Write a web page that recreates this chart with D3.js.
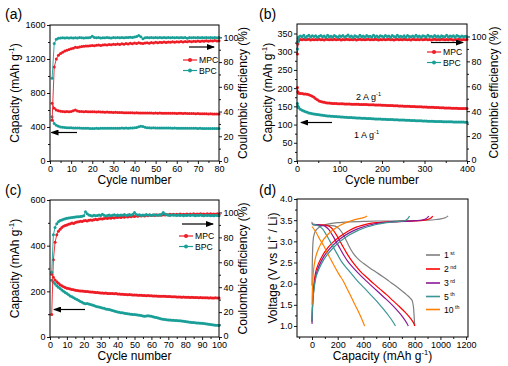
<!DOCTYPE html>
<html><head><meta charset="utf-8">
<script src="https://cdn.jsdelivr.net/npm/d3@7"></script>
<style>
body{margin:0;background:#fff}
svg{display:block}
text{font-family:"Liberation Sans",Arial,sans-serif;fill:#000}
</style>
</head><body>
<svg id="chart" width="508" height="366"></svg>
<script>
// ---------------- DATA ----------------
// Panel (a): 80 cycles
const aCycles = d3.range(1, 81);
const aMpcCap = [680,620,600,590,585,582,580,583,580,582,
590,600,588,583,582,580,581,579,580,578,
579,577,578,576,577,575,576,574,575,572,
573,571,570,571,569,568,569,567,568,566,
567,565,566,564,565,566,564,565,563,564,
563,564,562,563,561,562,563,561,562,560,
561,562,560,561,559,560,558,559,557,558,
556,557,555,556,554,555,553,554,552,553];
const aMpcCE = [33,76,82.5,85.5,87,88,89,89.5,90.2,90.8,
91.2,92,91.8,92.3,92.6,92.8,93,93.1,93.3,93.5,
93.2,93.6,93.8,93.5,93.9,94.1,93.8,94.2,94,94.4,
94.2,94.6,94.3,94.8,94.5,95,94.7,95.2,94.9,95.4,
95.1,95.6,95.2,95,95.5,95.7,95.3,95.8,95.5,96,
95.7,96.1,95.8,96.2,95.9,96.3,96,96.4,96.1,96.5,
96.2,96.6,96.3,96.7,96.4,96.8,96.5,96.9,96.6,97,
96.7,97.1,96.8,97.2,96.9,97.3,97,97.4,97.1,97.3];
const aBpcCap = [520,440,420,408,400,396,394,392,391,390,
389,388,388,387,386,386,385,384,383,382,
383,384,383,384,385,384,385,386,385,385,
386,385,386,387,386,387,386,387,388,390,
395,402,408,405,396,392,390,389,390,388,
389,388,387,388,387,388,387,386,387,386,
386,385,386,385,385,384,385,384,384,383,
384,383,383,382,383,382,382,381,382,381];
const aBpcCE = [67,95,98.5,99.2,99.5,99.6,99.4,99.7,99.5,99.6,
99.4,99.7,99.5,99.8,99.6,99.5,99.7,99.6,99.8,100.8,
99.9,99.6,99.8,99.5,99.7,99.6,99.9,99.7,99.5,99.8,
99.6,99.9,99.7,99.8,99.6,99.9,99.8,100,99.9,100.2,
100.6,101.5,100.5,98.8,99.6,99.8,99.7,99.9,99.6,99.8,
99.7,99.9,99.6,99.8,99.7,99.9,99.6,99.8,99.7,99.9,
99.6,99.8,99.7,99.9,99.3,99.8,99.7,99.9,99.6,99.8,
99.7,99.9,99.6,99.8,99.7,99.9,99.6,99.8,99.7,99.8];

// Panel (b): 400 cycles, sampled
const bCycles = [1,2,3].concat(d3.range(4, 401, 4));
const bMpcCap = [202,190,187,
186,185,185,184,184,183,182,180,178,175,
171,168,165,163,162,161,160,159.5,159,158.5,
158,157.8,157.5,157.3,157,157,156.8,156.6,156.5,156.3,
156.2,156,156,155.8,155.6,155.5,155.4,155.2,155,155,
154.8,154.6,154.5,154.3,154.1,154,153.8,153.6,153.4,153.2,
153,152.8,152.6,152.4,152.2,152,151.8,151.6,151.4,151.2,
151,150.8,150.6,150.4,150.2,150,149.8,149.6,149.4,149.2,
149,148.8,148.6,148.4,148.2,148,147.8,147.6,147.4,147.2,
147,146.8,146.6,146.4,146.2,146,145.8,145.6,145.4,145.2,
145,144.8,144.6,144.5,144.4,144.3,144.2,144.1,144,144];
const bBpcCap = [158,151,148,
146,142,139,137,135,133.5,132,131,130,129,
128,127.3,126.6,126,125.4,124.8,124.3,123.8,123.4,123,
122.6,122.2,121.8,121.5,121.2,120.9,120.6,120.3,120,119.7,
119.4,119.1,118.8,118.5,118.2,118,117.8,117.5,117.2,117,
116.8,116.5,116.3,116,115.8,115.6,115.4,115.2,115,114.8,
114.6,114.4,114.2,114,113.8,113.6,113.4,113.2,113,112.8,
112.6,112.4,112.2,112,111.8,111.6,111.4,111.2,111,110.8,
110.6,110.4,110.2,110,109.8,109.6,109.4,109.2,109,108.8,
108.7,108.6,108.4,108.3,108.1,108,107.9,107.7,107.6,107.5,
107.4,107.3,107.2,107.1,107,106.9,106.8,106.7,106.6,106.5];
const bMpcCE = [86,94,96,
97.2,97.6,97.4,97.8,97.3,97.5,97.7,97.2,97.6,97.4,
97.5,97.3,97.8,97.4,97.6,97.2,97.7,97.5,97.3,97.6,
97.4,97.8,97.3,97.5,97.7,97.2,97.6,97.4,97.8,97.5,
97.3,97.6,97.4,97.7,97.2,97.5,97.8,97.4,97.6,97.3,
97.5,97.7,97.3,97.6,97.4,97.8,97.5,97.2,97.6,97.4,
97.7,97.3,97.5,97.8,97.4,97.6,97.2,97.5,97.7,97.4,
97.6,97.3,97.8,97.5,97.4,97.6,97.2,97.7,97.5,97.3,
97.6,97.4,97.8,97.3,97.5,97.7,97.4,97.6,97.2,97.5,
97.7,97.4,97.6,97.3,97.8,97.5,97.4,97.6,97.3,97.7,
97.5,97.2,97.6,97.4,97.7,97.5,97.3,97.6,97.4,97.5];
const bBpcCE = [90,96,98.5,
99.5,100.4,99.8,100.9,99.2,100.2,101,99.6,100.5,99.9,
100.6,99.3,100.1,100.8,99.7,100.3,99.4,100.9,99.8,100.2,
99.5,100.7,100,99.3,100.5,99.9,100.8,99.6,100.2,101.1,
99.7,100.4,99.2,100.6,100,99.5,100.9,99.8,100.3,99.4,
100.7,99.9,100.2,99.5,101,99.7,100.4,99.3,100.6,100.1,
99.6,100.8,99.9,100.3,99.4,100.7,100,99.5,100.9,99.8,
100.2,99.6,100.5,99.3,100.8,100,99.7,100.4,99.5,100.9,
99.8,100.3,99.4,100.6,100.1,99.6,101,99.9,100.2,99.5,
100.7,99.8,100.4,99.3,100.6,100,99.7,100.9,99.6,100.3,
99.9,100.5,99.4,100.8,100.1,99.6,100.4,99.8,100.2,99.7];

// Panel (c): 100 cycles
const cCycles = d3.range(1, 101);
const cMpcCap = [275,262,250,242,235,229,224,220,217,214,
212,210,208,207,205,204,203,202,201,200,
199,199,198,197,197,196,195,195,194,193,
193,192,193,191,191,190,190,189,190,188,
188,187,187,186,186,185,186,185,184,184,
184,183,183,183,182,182,181,182,181,181,
180,180,180,179,179,179,178,178,177,177,
177,176,176,176,175,175,175,174,175,174,
174,174,173,174,173,173,173,172,173,172,
172,172,172,171,172,171,171,172,171,171];
const cBpcCap = [248,240,232,225,218,212,206,200,195,190,
185,180,176,172,168,164,160,156,152,148,
146,147,144,142,140,138,135,133,131,129,
127,126,123,121,120,118,116,114,112,110,
108,106,106,104,103,102,101,100,99,98,
97,96,95,94,92,91,92,93,92,91,
89,87,85,83,81,79,78,77,76,75,
74,73.5,73,72.5,72,71.5,71,70,69,68,
67,66,65,64,63,62,61.5,61,60.5,60,
59,58,57,56,55,54,53,52,51,50];
const cMpcCE = [18,62,76,82,85,86.5,88,89,89.5,90,
90.5,91,91.5,91.2,92,92.3,92.6,93,92.8,93.3,
93.5,93.2,93.8,94,93.7,94.2,94.5,94.1,94.8,95,
94.7,95.2,95.5,95.1,95.7,95.4,96,95.6,96.2,95.9,
96.3,96,96.6,96.2,96.8,96.4,97,96.6,97.2,96.8,
97.3,96.9,97.5,97.1,97.6,97.2,97.8,97.4,98,97.5,
97.9,97.6,98.1,97.7,98.2,97.8,98.3,97.9,98.4,98,
98.5,98.1,98.6,98.2,98.5,98.2,98.7,98.3,98.6,98.3,
98.8,98.4,98.7,98.3,98.9,98.4,98.8,98.5,98.9,98.5,
98.8,98.4,98.9,98.5,99,98.6,98.8,98.5,98.9,98.6];
const cBpcCE = [52,82,88,91,92.5,93.5,94,94.5,95,95.3,
95.6,95.8,96,96.2,96.3,96.5,96.6,96.8,97,97.3,
100.5,99,98,97.5,97.2,97.8,97.4,97.6,98,97.5,
98.5,97.8,97.2,97.6,97.9,97.4,97.8,98.2,97.6,97.9,
97.5,98,97.7,98.3,97.6,97.9,98.4,97.8,98.6,100,
98.4,97.9,98.2,97.6,98,97.8,98.3,97.7,98.1,97.6,
97.9,98.2,97.7,98,97.8,98.5,100,98.8,98.2,97.9,
97.6,98.1,97.7,98,97.5,97.9,97.6,98,97.4,97.8,
97.5,97.9,97.6,98,97.7,97.4,97.8,97.5,97.9,97.6,
97.4,97.8,97.5,97.7,97.3,97.6,97.4,97.7,97.5,97.3];

// Panel (d): charge/discharge profiles [capacity, voltage]
const dCycleLabels = [["1"," st"],["2"," nd"],["3"," rd"],["5"," th"],["10"," th"]];
const dDischarge = [
 [[0,3.46],[3,3.40],[50,3.38],[120,3.38],[180,3.36],[210,3.30],[240,3.18],[270,3.0],[300,2.82],[330,2.68],[360,2.58],[400,2.48],[450,2.37],[500,2.27],[550,2.17],[600,2.06],[650,1.95],[700,1.83],[740,1.73],[765,1.66],[780,1.60],[790,1.45],[795,1.25],[800,1.0]],
 [[0,3.40],[60,3.39],[120,3.37],[150,3.32],[180,3.20],[210,3.05],[240,2.88],[270,2.72],[300,2.58],[340,2.42],[380,2.28],[430,2.14],[480,2.00],[530,1.87],[580,1.74],[630,1.60],[680,1.46],[730,1.31],[770,1.17],[790,1.08],[800,1.0]],
 [[0,3.40],[50,3.39],[100,3.36],[130,3.28],[160,3.14],[190,2.98],[220,2.82],[250,2.66],[280,2.52],[320,2.38],[360,2.25],[410,2.10],[460,1.96],[510,1.82],[560,1.68],[610,1.54],[660,1.38],[710,1.20],[740,1.06],[750,1.0]],
 [[0,3.40],[40,3.38],[80,3.30],[110,3.16],[140,3.00],[170,2.84],[200,2.68],[230,2.52],[260,2.40],[300,2.26],[350,2.08],[400,1.92],[450,1.76],[500,1.60],[550,1.42],[600,1.23],[630,1.10],[650,1.0]],
 [[0,3.35],[30,3.22],[60,3.05],[90,2.90],[120,2.72],[150,2.55],[180,2.38],[210,2.22],[240,2.08],[270,1.90],[300,1.72],[330,1.53],[360,1.35],[390,1.15],[410,1.0]]
];
const dCharge = [
 [[0,1.95],[3,2.6],[8,3.0],[20,3.2],[50,3.32],[100,3.39],[200,3.44],[300,3.46],[400,3.47],[500,3.48],[600,3.48],[700,3.49],[800,3.49],[900,3.50],[980,3.52],[1030,3.55],[1060,3.60]],
 [[0,1.1],[5,1.6],[15,2.0],[35,2.35],[70,2.6],[110,2.8],[160,2.97],[220,3.12],[280,3.24],[350,3.34],[420,3.40],[500,3.44],[600,3.46],[700,3.47],[800,3.48],[880,3.50],[920,3.54],[940,3.60]],
 [[0,1.05],[5,1.5],[15,1.9],[35,2.25],[70,2.52],[110,2.72],[160,2.90],[220,3.06],[290,3.20],[360,3.30],[440,3.38],[520,3.43],[620,3.46],[720,3.47],[820,3.49],[880,3.52],[910,3.60]],
 [[0,1.1],[5,1.5],[15,1.85],[35,2.2],[70,2.45],[110,2.65],[160,2.83],[220,3.0],[290,3.15],[360,3.26],[440,3.35],[520,3.41],[600,3.45],[680,3.47],[730,3.50],[760,3.60]],
 [[0,1.5],[5,2.0],[15,2.4],[35,2.7],[70,2.95],[110,3.12],[160,3.26],[220,3.38],[280,3.46],[340,3.52],[400,3.56],[430,3.60]]
];

// Tick values
const aXTicks = [0,10,20,30,40,50,60,70,80];
const aYTicks = [0,400,800,1200,1600];
const bXTicks = [0,100,200,300,400];
const bYTicks = [0,50,100,150,200,250,300,350];
const cXTicks = [0,10,20,30,40,50,60,70,80,90,100];
const cYTicks = [0,200,400,600];
const ceTicks = [0,20,40,60,80,100];
const dXTicks = [0,200,400,600,800,1000,1200];
const dYTicks = [1.0,1.5,2.0,2.5,3.0,3.5,4.0];

// ---------------- DRAW ----------------
const RED = "#ee1c25", TEAL = "#1a9f98";
const D_COLORS = ["#7f7f7f","#ff0000","#8a1796","#3b9593","#ff8000"];
const svg = d3.select("#chart");
const FS = 9, LFS = 8.6;
const intFmt = d3.format("d");

const defs = svg.append("defs");
defs.append("marker").attr("id","arr").attr("markerUnits","userSpaceOnUse")
  .attr("markerWidth",8).attr("markerHeight",6).attr("refX",7).attr("refY",3).attr("orient","auto")
  .append("path").attr("d","M0,0 L8,3 L0,6 Z").attr("fill","#000");

function styleAxis(g){
  g.select(".domain").remove();
  g.selectAll("line").attr("stroke","#000").attr("stroke-width",0.9);
  g.selectAll("text").attr("font-size",FS).attr("fill","#000")
    .attr("font-family","'Liberation Sans',Arial,sans-serif");
}
function minorTicks(scale, vals, orient, tr){
  const ax = orient(scale).tickValues(vals).tickSize(2).tickFormat("");
  const g = svg.append("g").attr("transform",tr).call(ax);
  g.select(".domain").remove();
  g.selectAll("text").remove();
  g.selectAll("line").attr("stroke","#000").attr("stroke-width",0.9);
}
function supText(sel, parts, fs){
  let pend = 0;
  parts.forEach(p=>{
    const t = sel.append("tspan").text(p[0]);
    if(p[1]){ t.attr("font-size",fs*0.62).attr("dy",-fs*0.4); pend = fs*0.4; }
    else if(pend){ t.attr("dy",pend); pend = 0; }
  });
}
function vTitle(x, y, parts, fs){
  const t = svg.append("text").attr("transform",`translate(${x},${y}) rotate(-90)`)
    .attr("text-anchor","middle").attr("font-size",fs);
  supText(t, parts, fs);
  return t;
}
function hText(x, y, parts, fs, anchor){
  const t = svg.append("text").attr("x",x).attr("y",y).attr("text-anchor",anchor||"middle").attr("font-size",fs);
  supText(t, parts, fs);
  return t;
}
function panelLabel(x, y, s){
  svg.append("text").attr("x",x).attr("y",y).attr("font-size",14)
    .attr("font-family","'Liberation Serif','Times New Roman',serif").text(s);
}
function arrow(x1,y1,x2,y2){
  svg.append("line").attr("x1",x1).attr("y1",y1).attr("x2",x2).attr("y2",y2)
    .attr("stroke","#000").attr("stroke-width",1.2).attr("marker-end","url(#arr)");
}
function series(x, y, xs, ys, color, r){
  const pts = xs.map((c,i)=>[c, ys[i]]);
  const line = d3.line().x(d=>x(d[0])).y(d=>y(d[1]));
  svg.append("path").attr("d",line(pts)).attr("fill","none").attr("stroke",color).attr("stroke-width",0.9);
  svg.append("g").selectAll("circle").data(pts).join("circle")
    .attr("cx",d=>x(d[0])).attr("cy",d=>y(d[1])).attr("r",r).attr("fill",color);
}
function legendItem(x, y, color, withMarker){
  svg.append("line").attr("x1",x).attr("x2",x+14).attr("y1",y).attr("y2",y)
    .attr("stroke",color).attr("stroke-width",withMarker?1.2:1.6);
  if(withMarker) svg.append("circle").attr("cx",x+7).attr("cy",y).attr("r",2).attr("fill",color);
}

function dualPanel(o){
  const x = d3.scaleLinear().domain(o.xDom).range([o.x0,o.x1]);
  const yL = d3.scaleLinear().domain(o.yLDom).range([o.y1,o.y0]);
  const yR = d3.scaleLinear().domain(o.yRDom).range([o.y1,o.y0]);
  let g = svg.append("g").attr("transform",`translate(0,${o.y1})`)
    .call(d3.axisBottom(x).tickValues(o.xTicks).tickSize(3).tickPadding(1.5).tickFormat(intFmt));
  styleAxis(g);
  minorTicks(x, o.xMinor, d3.axisBottom, `translate(0,${o.y1})`);
  g = svg.append("g").attr("transform",`translate(${o.x0},0)`)
    .call(d3.axisLeft(yL).tickValues(o.yLTicks).tickSize(3).tickPadding(1.5).tickFormat(intFmt));
  styleAxis(g);
  minorTicks(yL, o.yLMinor, d3.axisLeft, `translate(${o.x0},0)`);
  g = svg.append("g").attr("transform",`translate(${o.x1},0)`)
    .call(d3.axisRight(yR).tickValues(ceTicks).tickSize(3).tickPadding(1.5).tickFormat(intFmt));
  styleAxis(g);
  // lift the right-axis "0" label slightly so it does not collide with the last x label
  g.selectAll(".tick").filter(d=>d===0).select("text").attr("dy","0.2em");
  minorTicks(yR, [10,30,50,70,90], d3.axisRight, `translate(${o.x1},0)`);
  series(x, yL, o.xs, o.mpcCap, RED, o.r);
  series(x, yL, o.xs, o.bpcCap, TEAL, o.r);
  series(x, yR, o.xs, o.mpcCE, RED, o.r);
  series(x, yR, o.xs, o.bpcCE, TEAL, o.r);
  svg.append("rect").attr("x",o.x0).attr("y",o.y0).attr("width",o.x1-o.x0).attr("height",o.y1-o.y0)
    .attr("fill","none").attr("stroke","#000").attr("stroke-width",1);
  const cy = (o.y0+o.y1)/2;
  vTitle(o.x0-o.lOff, cy, [["Capacity (mAh g"],["-1",1],[")"]], 12);
  vTitle(o.x1+o.rOff, cy, [["Coulombic efficiency (%)"]], 12);
  hText((o.x0+o.x1)/2, o.y1+22.5, [["Cycle number"]], 12);
  legendItem(o.legX, o.legY, RED, true);
  legendItem(o.legX, o.legY+10.5, TEAL, true);
  hText(o.legX+16, o.legY+3.1, [["MPC"]], LFS, "start");
  hText(o.legX+16, o.legY+13.6, [["BPC"]], LFS, "start");
}

// Panel (a)
dualPanel({x0:50,x1:219,y0:25,y1:161,xDom:[0,80],yLDom:[0,1600],yRDom:[0,110],
  xTicks:aXTicks,xMinor:[5,15,25,35,45,55,65,75],yLTicks:aYTicks,yLMinor:[200,600,1000,1400],
  xs:aCycles,mpcCap:aMpcCap,bpcCap:aBpcCap,mpcCE:aMpcCE,bpcCE:aBpcCE,r:1.5,legX:183,legY:60,lOff:31,rOff:28});
arrow(189,47,214,47);
arrow(77,132.5,51.5,132.5);
panelLabel(5,19,"(a)");

// Panel (b)
dualPanel({x0:297,x1:467,y0:24,y1:161,xDom:[0,400],yLDom:[0,376],yRDom:[0,110],
  xTicks:bXTicks,xMinor:[50,150,250,350],yLTicks:bYTicks,yLMinor:[25,75,125,175,225,275,325],
  xs:bCycles,mpcCap:bMpcCap,bpcCap:bBpcCap,mpcCE:bMpcCE,bpcCE:bBpcCE,r:1.5,legX:427,legY:52,lOff:25,rOff:31});
arrow(431,42.5,463,42.5);
arrow(332,122.5,301,122.5);
hText(356,100,[["2 A g"],["-1",1]],FS,"start");
hText(354,138,[["1 A g"],["-1",1]],FS,"start");
panelLabel(259,19,"(b)");

// Panel (c)
dualPanel({x0:50,x1:219,y0:200,y1:337,xDom:[0,100],yLDom:[0,600],yRDom:[0,110],
  xTicks:cXTicks,xMinor:[5,15,25,35,45,55,65,75,85,95],yLTicks:cYTicks,yLMinor:[100,300,500],
  xs:cCycles,mpcCap:cMpcCap,bpcCap:cBpcCap,mpcCE:cMpcCE,bpcCE:cBpcCE,r:1.5,legX:179,legY:236,lOff:31,rOff:28});
arrow(182,224,213,224);
arrow(85,309.5,54,309.5);
panelLabel(5,195,"(c)");

// Panel (d)
(function(){
  const x0=297,x1=468,y0=199,y1=337;
  const x = d3.scaleLinear().domain([-117,1215]).range([x0,x1]);
  const y = d3.scaleLinear().domain([0.74,4.0]).range([y1,y0]);
  let g = svg.append("g").attr("transform",`translate(0,${y1})`)
    .call(d3.axisBottom(x).tickValues(dXTicks).tickSize(3).tickPadding(1.5).tickFormat(intFmt));
  styleAxis(g);
  minorTicks(x,[-100,100,300,500,700,900,1100],d3.axisBottom,`translate(0,${y1})`);
  g = svg.append("g").attr("transform",`translate(${x0},0)`)
    .call(d3.axisLeft(y).tickValues(dYTicks).tickSize(3).tickPadding(1.5).tickFormat(d3.format(".1f")));
  styleAxis(g);
  minorTicks(y,[1.25,1.75,2.25,2.75,3.25,3.75],d3.axisLeft,`translate(${x0},0)`);
  const lineC = d3.line().x(d=>x(d[0])).y(d=>y(d[1])).curve(d3.curveMonotoneY);
  const lineD = d3.line().x(d=>x(d[0])).y(d=>y(d[1])).curve(d3.curveCatmullRom);
  for(let i=0;i<5;i++){
    svg.append("path").attr("d",lineC(dCharge[i])).attr("fill","none").attr("stroke",D_COLORS[i]).attr("stroke-width",1.2);
    svg.append("path").attr("d",lineD(dDischarge[i])).attr("fill","none").attr("stroke",D_COLORS[i]).attr("stroke-width",1.2);
  }
  svg.append("rect").attr("x",x0).attr("y",y0).attr("width",x1-x0).attr("height",y1-y0)
    .attr("fill","none").attr("stroke","#000").attr("stroke-width",1);
  vTitle(x0-20, (y0+y1)/2, [["Voltage (V vs Li"],["+",1],[" / Li)"]], 12);
  hText((x0+x1)/2, y1+22.5, [["Capacity (mAh g"],["-1",1],[")"]], 12);
  const ly=[255,269,283,296.5,309.5];
  dCycleLabels.forEach((lab,i)=>{
    legendItem(426, ly[i], D_COLORS[i], false);
    hText(444, ly[i]+3.2, [[lab[0]],[lab[1],1]], LFS, "start");
  });
  panelLabel(259,195,"(d)");
})();
</script>
</body></html>
